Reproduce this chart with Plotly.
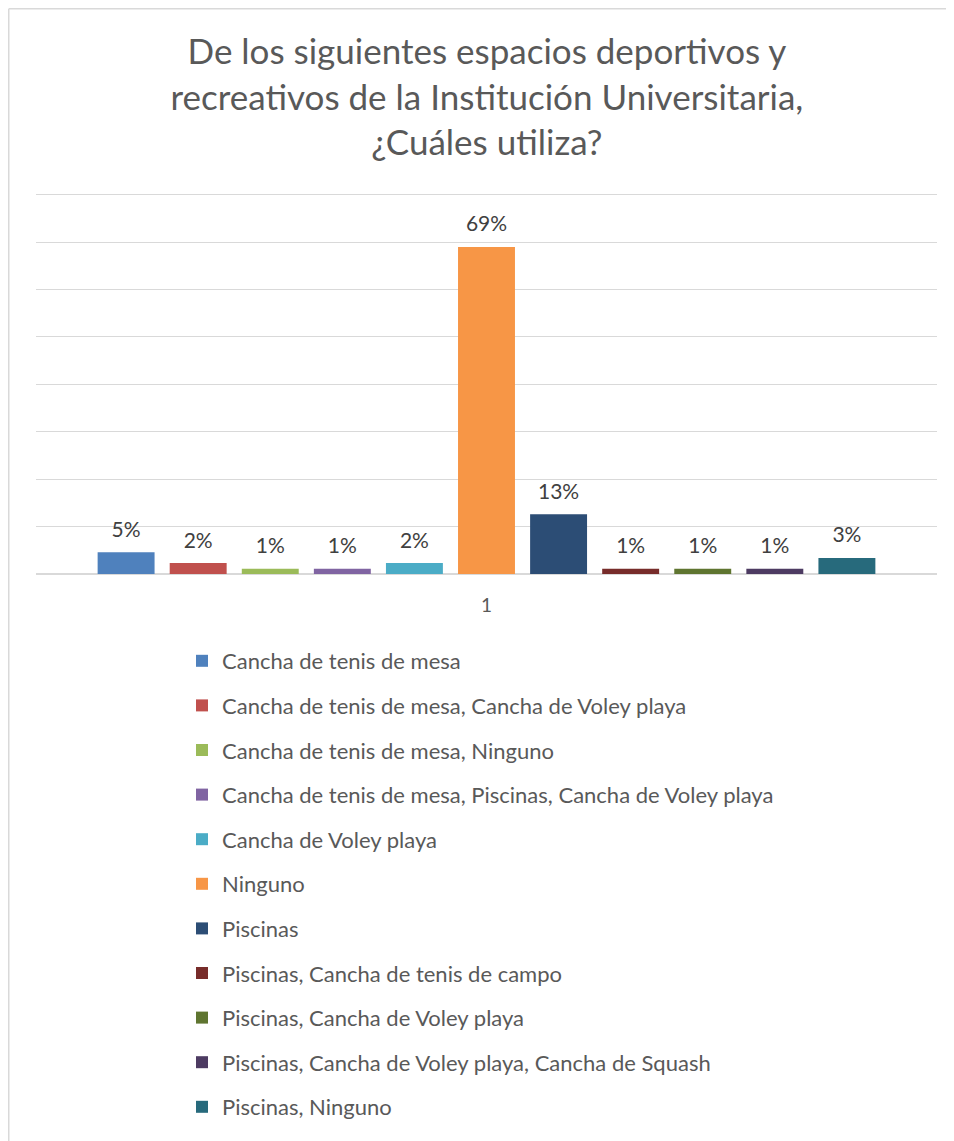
import plotly.graph_objects as go

categories = ["1"]
series_names = [
    "Cancha de tenis de mesa",
    "Cancha de tenis de mesa, Cancha de Voley playa",
    "Cancha de tenis de mesa, Ninguno",
    "Cancha de tenis de mesa, Piscinas, Cancha de Voley playa",
    "Cancha de Voley playa",
    "Ninguno",
    "Piscinas",
    "Piscinas, Cancha de tenis de campo",
    "Piscinas, Cancha de Voley playa",
    "Piscinas, Cancha de Voley playa, Cancha de Squash",
    "Piscinas, Ninguno",
]
series_values = [0.046, 0.023, 0.011, 0.011, 0.023, 0.690, 0.126, 0.011, 0.011, 0.011, 0.034]
colors = ["#4F81BD", "#C0504D", "#9BBB59", "#8064A2", "#4BACC6", "#F79646",
          "#2C4D75", "#772C2A", "#5F7530", "#4D3B62", "#276A7C"]

FONT = "Lato"
W, H = 954, 1141
# page body adds an 8px offset, so layout numbers are shifted by -8
L, R, T, B = 28, 25, 182, 575

fig = go.Figure()
for i, name in enumerate(series_names):
    fig.add_trace(go.Bar(
        x=categories,
        y=[series_values[i]],
        name=name,
        marker=dict(color=colors[i], line=dict(width=0)),
        # extra invisible small line lifts the label a bit above the bar
        texttemplate="<span style='font-size:21px'>%{y:.0%}</span><br><span style='color:rgba(0,0,0,0)'>.</span>",
        textposition="outside",
        textfont=dict(family=FONT, size=8, color="#404040"),
        cliponaxis=False,
        legendgroup=str(i),
    ))

pw = W - L - R
ph = H - T - B
fig.update_layout(
    width=W, height=H,
    margin=dict(l=L, r=R, t=T, b=B),
    paper_bgcolor="white", plot_bgcolor="white",
    barmode="group", bargap=0.12, bargroupgap=0.21,
    title=dict(
        text="De los siguientes espacios deportivos y<br>recreativos de la Institución Universitaria,<br>¿Cuáles utiliza?",
        x=0.502, xanchor="center", y=1 - 56 / H, yanchor="top", yref="container",
        font=dict(family=FONT, size=35, color="#595959"),
    ),
    showlegend=True,
    legend=dict(
        x=(174 - L) / pw, xanchor="left",
        y=-(632 - (T + ph)) / ph, yanchor="top",
        font=dict(family=FONT, size=22, color="#595959"),
        tracegroupgap=13, itemwidth=30,
        bgcolor="rgba(0,0,0,0)",
    ),
    xaxis=dict(
        showgrid=False, showline=False, ticks="",
        tickfont=dict(family=FONT, size=19, color="#595959"),
        ticklabelstandoff=18,
    ),
    yaxis=dict(
        range=[0, 0.81], dtick=0.1, showticklabels=False,
        showgrid=True, gridcolor="#D9D9D9", gridwidth=1,
        zeroline=True, zerolinecolor="#D9D9D9", zerolinewidth=1.5,
    ),
    shapes=[
        dict(type="line", xref="paper", yref="paper",
             x0=(0.75 - L) / pw, x1=(0.75 - L) / pw,
             y0=-(H - (T + ph)) / ph, y1=1 + (T - 0.75) / ph,
             line=dict(color="#D9D9D9", width=1.5), layer="below"),
        dict(type="line", xref="paper", yref="paper",
             x0=(0.75 - L) / pw, x1=(W - L) / pw,
             y0=1 + (T - 0.75) / ph, y1=1 + (T - 0.75) / ph,
             line=dict(color="#D9D9D9", width=1.5), layer="below"),
    ],
)

fig.write_html("out.html")
